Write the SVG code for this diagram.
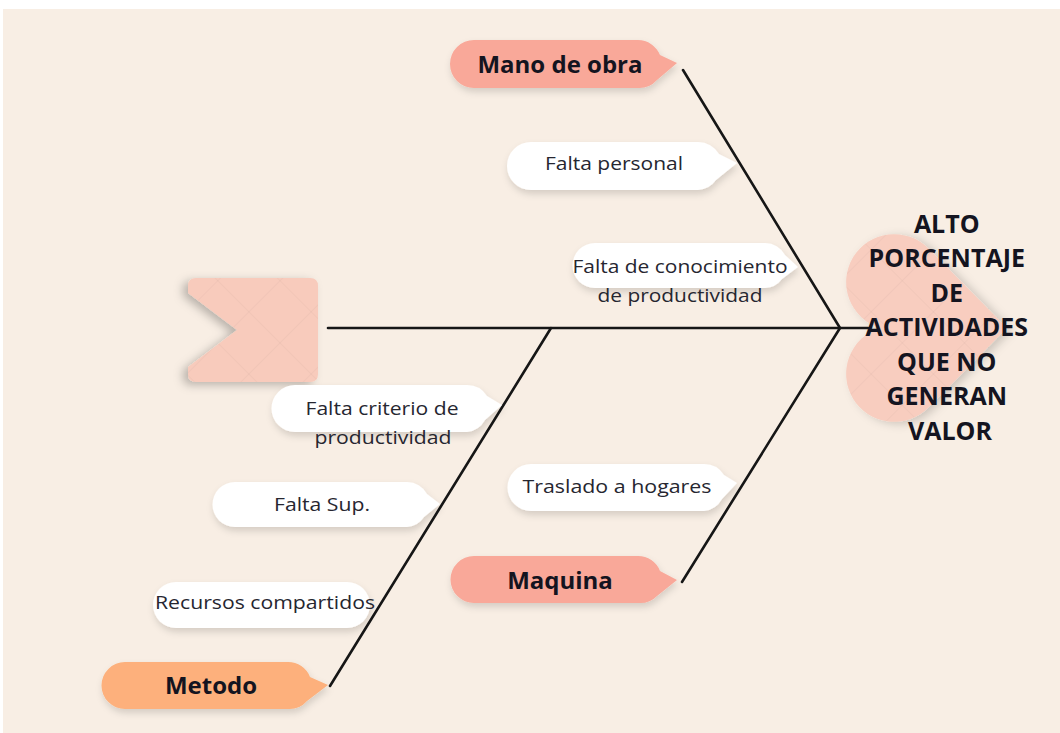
<svg xmlns="http://www.w3.org/2000/svg" width="1060" height="733" viewBox="0 0 1060 733">
<defs>
<style>
.bold{font-family:"Open Sans","Liberation Sans",sans-serif;font-weight:700;fill:#141420;text-anchor:middle}
.reg{font-family:"Open Sans","Liberation Sans",sans-serif;font-weight:400;fill:#262630;text-anchor:middle;font-size:19px}
.bone{stroke:#161616;stroke-width:2.6;fill:none;stroke-linecap:round}
.bubble{fill:#ffffff;filter:url(#sh)}
</style>
<filter id="sh" x="-20%" y="-30%" width="140%" height="170%">
<feDropShadow dx="1" dy="4" stdDeviation="3.5" flood-color="#000" flood-opacity="0.14"/>
</filter>
<filter id="shL" x="-30%" y="-30%" width="160%" height="160%">
<feDropShadow dx="-5" dy="3" stdDeviation="5" flood-color="#000" flood-opacity="0.25"/>
</filter>
<filter id="shR" x="-30%" y="-30%" width="160%" height="160%">
<feDropShadow dx="5" dy="2" stdDeviation="5" flood-color="#000" flood-opacity="0.18"/>
</filter>
<pattern id="wm" width="44" height="44" patternUnits="userSpaceOnUse" patternTransform="rotate(45)">
<path d="M0 0H44M0 0V44" stroke="#000" stroke-opacity="0.05" stroke-width="1"/>
</pattern>
</defs>
<rect x="0" y="0" width="1060" height="733" fill="#ffffff"/>
<rect x="3" y="9" width="1057" height="724" fill="#f8eee4"/>

<g id="connectors">
<line class="bone" x1="328" y1="328" x2="868" y2="328"/>
<line class="bone" x1="683" y1="70" x2="840" y2="328"/>
<line class="bone" x1="682" y1="582" x2="840" y2="328"/>
<line class="bone" x1="330" y1="686" x2="551" y2="328"/>
</g>

<g id="tail">
<path d="M196 278 H310 Q318 278 318 286 V374 Q318 382 310 382 H196 Q188 382 188 374 V367 L237 330 L188 293 V286 Q188 278 196 278 Z" fill="#f8cbbc" filter="url(#shL)"/>
<path d="M196 278 H310 Q318 278 318 286 V374 Q318 382 310 382 H196 Q188 382 188 374 V367 L237 330 L188 293 V286 Q188 278 196 278 Z" fill="url(#wm)"/>
</g>

<g id="head">
<path d="M1007 328 L928.2 248.3 A48 48 0 1 0 880 328 A48 48 0 1 0 928.2 407.7 Z" fill="#f8cdbf" filter="url(#shR)"/>
<path d="M1007 328 L928.2 248.3 A48 48 0 1 0 880 328 A48 48 0 1 0 928.2 407.7 Z" fill="url(#wm)"/>
<text class="bold" font-size="25" x="950">
<tspan x="950" y="233">ALTO</tspan>
<tspan x="950" y="267">PORCENTAJE</tspan>
<tspan x="950" y="302">DE</tspan>
<tspan x="950" y="336">ACTIVIDADES</tspan>
<tspan x="950" y="371">QUE NO</tspan>
<tspan x="950" y="405">GENERAN</tspan>
<tspan x="950" y="440">VALOR</tspan>
</text>
</g>

<g id="mano-de-obra">
<path d="M474 40 H638 A24 24 0 0 1 660 55 L677 63 L657 80 A24 24 0 0 1 638 88 H474 A24 24 0 0 1 474 40 Z" fill="#f9a899" filter="url(#sh)"/>
<text class="bold" font-size="24" x="560" y="73">Mano de obra</text>
</g>

<g id="maquina">
<path d="M474 556 H638 A23.5 23.5 0 0 1 660 571 L677 580 L657 596 A23.5 23.5 0 0 1 638 603 H474 A23.5 23.5 0 0 1 474 556 Z" fill="#f9a899" filter="url(#sh)"/>
<text class="bold" font-size="24" x="560" y="589">Maquina</text>
</g>

<g id="metodo">
<path d="M125 662 H288 A23.5 23.5 0 0 1 310 677 L328 685 L307 701 A23.5 23.5 0 0 1 288 709 H125 A23.5 23.5 0 0 1 125 662 Z" fill="#fdb07b" filter="url(#sh)"/>
<text class="bold" font-size="24" x="211" y="694">Metodo</text>
</g>

<g id="falta-personal">
<path class="bubble" d="M531 142 H698 A24 24 0 0 1 719 154 L737 163 L716 180 A24 24 0 0 1 698 190 H531 A24 24 0 0 1 531 142 Z"/>
<text class="reg" x="614" y="170" textLength="138" lengthAdjust="spacingAndGlyphs">Falta personal</text>
</g>

<g id="falta-conocimiento">
<path class="bubble" d="M595 243 H765 A22.5 22.5 0 0 1 785 255 L798 267 L782 279 A22.5 22.5 0 0 1 765 288 H595 A22.5 22.5 0 0 1 595 243 Z"/>
<text class="reg" x="680" y="273" textLength="215" lengthAdjust="spacingAndGlyphs">Falta de conocimiento</text>
<text class="reg" x="680" y="302" textLength="165" lengthAdjust="spacingAndGlyphs">de productividad</text>
</g>

<g id="falta-criterio">
<path class="bubble" d="M295 385 H467 A23.5 23.5 0 0 1 487 396 L502 405 L485 420 A23.5 23.5 0 0 1 467 432 H295 A23.5 23.5 0 0 1 295 385 Z"/>
<text class="reg" x="382" y="415" textLength="153" lengthAdjust="spacingAndGlyphs">Falta criterio de</text>
<text class="reg" x="383" y="444" textLength="137" lengthAdjust="spacingAndGlyphs">productividad</text>
</g>

<g id="falta-sup">
<path class="bubble" d="M235 482 H407 A22.5 22.5 0 0 1 427 494 L440 504 L424 517 A22.5 22.5 0 0 1 407 527 H235 A22.5 22.5 0 0 1 235 482 Z"/>
<text class="reg" x="322" y="511" textLength="96" lengthAdjust="spacingAndGlyphs">Falta Sup.</text>
</g>

<g id="traslado">
<path class="bubble" d="M531 464 H704 A23.5 23.5 0 0 1 724 475 L737 483 L722 499 A23.5 23.5 0 0 1 704 511 H531 A23.5 23.5 0 0 1 531 464 Z"/>
<text class="reg" x="617" y="493" textLength="189" lengthAdjust="spacingAndGlyphs">Traslado a hogares</text>
</g>

<g id="recursos">
<path class="bubble" d="M176 582 H347 A23 23 0 0 1 347 628 H176 A23 23 0 0 1 176 582 Z"/>
<text class="reg" x="265" y="609" textLength="220" lengthAdjust="spacingAndGlyphs">Recursos compartidos</text>
</g>
</svg>
